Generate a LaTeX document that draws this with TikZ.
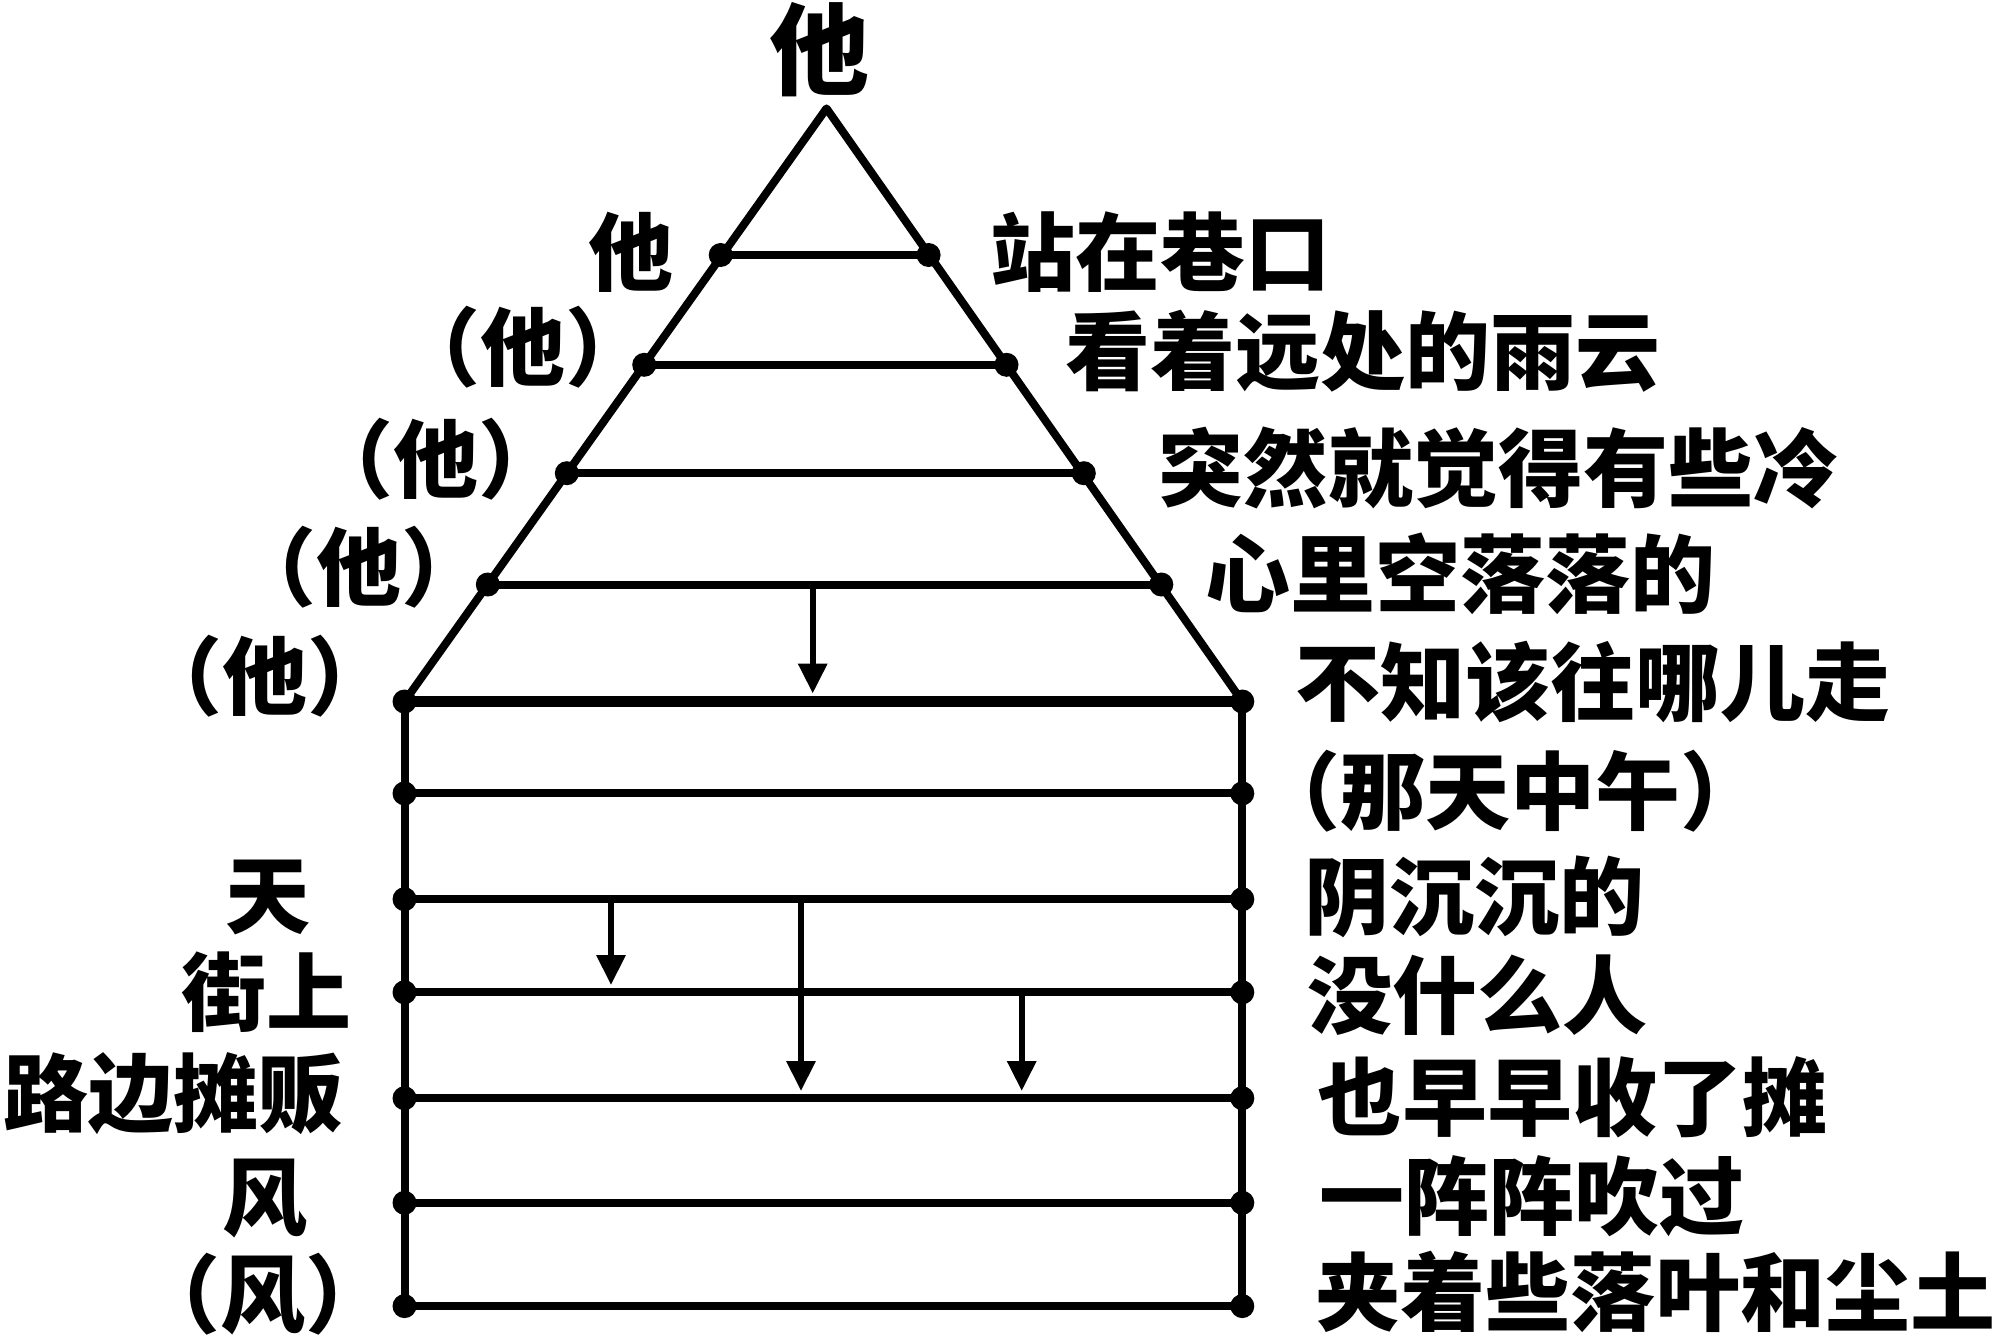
\documentclass[tikz,border=0pt]{standalone}
\usepackage{fontspec}
\newfontfamily\cjk{Noto Sans CJK SC}
\usetikzlibrary{arrows.meta}
\newcommand\lpar{\makebox[0.5em][r]{（}}
\newcommand\rpar{\makebox[0.5em][l]{）}}
\begin{document}
\begin{tikzpicture}[x=0.5pt,y=-0.5pt,
  edge/.style={line width=4pt, line cap=round, line join=round},
  boldedge/.style={line width=5.5pt},
  arr/.style={line width=3.2pt, -{Triangle[length=15pt,width=14pt]}, shorten >=2.5pt},
  lab/.style={inner sep=0pt, font=\cjk\bfseries\fontsize{42.5}{50}\selectfont},
  toplab/.style={inner sep=0pt, font=\cjk\bfseries\fontsize{50}{60}\selectfont}]
\useasboundingbox (0,0) rectangle (2000,1338);
% key points
\coordinate (apex) at (826.5,108.4);
\coordinate (L1l) at (720.7,255);   \coordinate (L1r) at (928.6,255);
\coordinate (L2l) at (644.2,364.8); \coordinate (L2r) at (1006.5,364.8);
\coordinate (L3l) at (566.8,473.2); \coordinate (L3r) at (1083.8,473.2);
\coordinate (L4l) at (487.8,584.5); \coordinate (L4r) at (1161.3,584.5);
\coordinate (R1l) at (404.5,701.5); \coordinate (R1r) at (1242.3,701.5);
\coordinate (R2l) at (404.5,793.4); \coordinate (R2r) at (1242.3,793.4);
\coordinate (R3l) at (404.5,899.2); \coordinate (R3r) at (1242.3,899.2);
\coordinate (R4l) at (404.5,992.3); \coordinate (R4r) at (1242.3,992.3);
\coordinate (R5l) at (404.5,1098.2); \coordinate (R5r) at (1242.3,1098.2);
\coordinate (R6l) at (404.5,1202.8); \coordinate (R6r) at (1242.3,1202.8);
\coordinate (R7l) at (404.5,1306.1); \coordinate (R7r) at (1242.3,1306.1);
% outline
\draw[edge] (R1l) -- (apex) -- (R1r);
\draw[edge] (R1l) -- (R7l);
\draw[edge] (R1r) -- (R7r);
% cross lines
\foreach \p in {L1,L2,L3,L4,R2,R3,R4,R5,R6,R7}{\draw[edge] (\p l) -- (\p r);}
\draw[boldedge] (R1l) -- (R1r);
% dots
\foreach \p in {L1,L2,L3,L4,R1,R2,R3,R4,R5,R6,R7}{
  \fill (\p l) circle (6pt);
  \fill (\p r) circle (6pt);}
% arrows
\coordinate (a1s) at (812.7,584.5); \coordinate (a1e) at (812.7,698.5);
\coordinate (a2s) at (611,899.2);   \coordinate (a2e) at (611,990);
\coordinate (a3s) at (801,899.2);   \coordinate (a3e) at (801,1096);
\coordinate (a4s) at (1021.7,992.3); \coordinate (a4e) at (1021.7,1096);
\draw[arr] (a1s) -- (a1e);
\draw[arr] (a2s) -- (a2e);
\draw[arr] (a3s) -- (a3e);
\draw[arr] (a4s) -- (a4e);
% labels
\node[toplab] (t0) at (819,50) {他};
\node[lab] (tl1) at (631,252) {他};
\node[lab] (tl2) at (523,347) {\lpar 他\rpar};
\node[lab] (tl3) at (435.5,459) {\lpar 他\rpar};
\node[lab] (tl4) at (359,567.6) {\lpar 他\rpar};
\node[lab] (tl5) at (265,676) {\lpar 他\rpar};
\node[lab] (bl3) at (268,897) {天};
\node[lab] (bl4) at (266.5,992) {街上};
\node[lab] (bl5) at (173.5,1094) {路边摊贩};
\node[lab] (bl6) at (265,1199) {风};
\node[lab] (bl7) at (263,1294) {\lpar 风\rpar};
\node[lab] (tr1) at (1160.7,252.5) {站在巷口};
\node[lab] (tr2) at (1362.8,351) {看着远处的雨云};
\node[lab] (tr3) at (1498.5,468) {突然就觉得有些冷};
\node[lab] (tr4) at (1460,574) {心里空落落的};
\node[lab] (tr5) at (1593,682) {不知该往哪儿走};
\node[lab] (br2) at (1510,791) {\lpar 那天中午\rpar};
\node[lab] (br3) at (1474.5,897) {阴沉沉的};
\node[lab] (br4) at (1477.5,995) {没什么人};
\node[lab] (br5) at (1572,1097) {也早早收了摊};
\node[lab] (br6) at (1531.5,1196) {一阵阵吹过};
\node[lab] (br7) at (1655,1292) {夹着些落叶和尘土};
\end{tikzpicture}
\end{document}
